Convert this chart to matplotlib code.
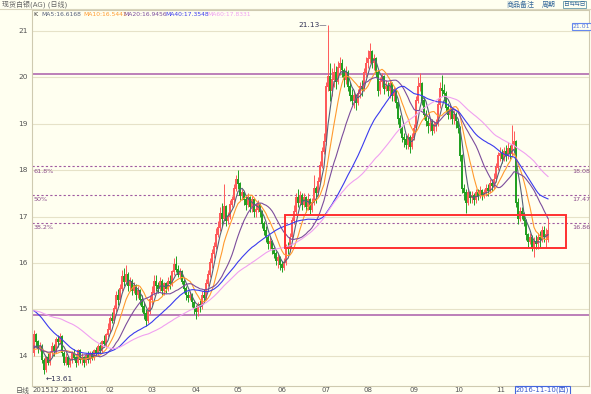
import numpy as np
import pandas as pd
import matplotlib
matplotlib.use("Agg")
import matplotlib.pyplot as plt
from matplotlib.patches import Rectangle

plt.rcParams['font.family'] = ['DejaVu Sans', 'Noto Sans CJK SC']

# ---------------- data ----------------
title = "现货白银(AG) (日线)"
month_labels = ["201601", "02", "03", "04", "05", "06", "07", "08", "09", "10", "11"]
month_start_idx = [14, 36, 57, 79, 100, 122, 144, 165, 188, 210, 231]
first_label = "201512"
cursor_label = "2016-11-10(四)"
cursor_idx = 241

# closes before the visible window (only used for the moving averages)
prior_closes = [14.6, 14.7, 14.8, 14.75, 14.9, 15.0, 14.85, 14.95, 15.1, 15.05,
                14.9, 14.8, 14.85, 15.0, 15.1, 15.2, 15.15, 15.0, 15.05, 15.1,
                15.3, 15.5, 15.7, 15.85, 15.9, 16.0, 16.1, 16.25, 16.1, 16.0,
                15.9, 15.85, 15.75, 15.6, 15.7, 15.55, 15.5, 15.6, 15.4, 15.3,
                15.0, 14.85, 14.6, 14.5, 14.3, 14.2, 14.15, 14.1, 14.0, 14.05,
                14.1, 14.2, 14.1, 14.15, 14.05, 14.0, 14.1, 14.2, 14.1, 14.0]

opens = [
    # Dec 2015
    14.05, 14.45, 14.3, 14.15, 14.2, 13.9, 13.7, 13.95, 13.85, 14.05, 14.2, 14.1, 14.35, 14.3,
    # Jan
    14.4, 14.05, 13.85, 13.95, 13.8, 13.9, 14.05, 13.95, 13.85, 14.1, 13.9, 13.95, 13.85, 14.0,
    13.9, 14.05, 13.95, 14.1, 14.05, 14.2, 14.1, 14.3, 14.25,
    # Feb
    14.45, 14.55, 14.8, 14.75, 15.0, 15.3, 15.2, 15.45, 15.7, 15.6, 15.75, 15.5, 15.6, 15.4,
    15.5, 15.3, 15.4, 15.2, 15.05, 14.9, 14.75,
    # Mar
    14.95, 15.2, 15.35, 15.6, 15.5, 15.45, 15.6, 15.4, 15.55, 15.45, 15.6, 15.55, 15.8, 15.95,
    15.85, 15.75, 15.8, 15.6, 15.45, 15.3, 15.25, 15.3, 15.15,
    # Apr
    15.0, 14.95, 15.1, 15.05, 15.3, 15.25, 15.55, 15.75, 16.0, 16.2, 16.35, 16.6, 16.75, 17.05,
    16.95, 17.2, 16.9, 17.0, 17.25, 17.35, 17.6,
    # May
    17.8, 17.7, 17.45, 17.5, 17.35, 17.25, 17.4, 17.2, 17.35, 17.1, 17.15, 17.25, 17.1, 16.85,
    16.7, 16.55, 16.4, 16.45, 16.3, 16.2, 16.05, 16.1,
    # Jun
    15.95, 15.9, 16.0, 16.35, 16.3, 16.55, 16.9, 17.1, 17.4, 17.3, 17.45, 17.25, 17.4, 17.2,
    17.35, 17.15, 17.3, 17.6, 17.5, 17.75, 18.1, 18.4,
    # Jul
    18.6, 19.8, 20.0, 19.7, 19.95, 20.1, 19.9, 20.2, 20.3, 20.15, 19.95, 20.1, 19.8, 19.6,
    19.5, 19.6, 19.45, 19.65, 19.8, 19.75, 20.1,
    # Aug
    20.3, 20.4, 20.55, 20.3, 20.4, 20.1, 19.7, 19.9, 20.0, 19.75, 19.8, 19.7, 19.85, 19.6,
    19.7, 19.45, 19.1, 18.9, 18.7, 18.65, 18.55, 18.7, 18.5,
    # Sep
    18.7, 18.9, 19.5, 19.8, 19.85, 19.5, 19.2, 19.05, 18.95, 19.0, 18.85, 18.95, 19.0, 19.4,
    19.75, 19.7, 19.65, 19.35, 19.2, 19.3, 19.1, 19.2,
    # Oct
    19.05, 18.9, 18.3, 17.6, 17.5, 17.3, 17.5, 17.4, 17.45, 17.35, 17.5, 17.45, 17.55, 17.45,
    17.5, 17.6, 17.55, 17.7, 17.65, 17.8,
    # Nov
    18.05, 18.3, 18.35, 18.25, 18.4, 18.3, 18.45, 18.35, 18.55, 18.6, 17.3, 16.95, 17.1, 17.05,
    16.9, 16.6, 16.45, 16.55, 16.35, 16.45, 16.4, 16.55, 16.5, 16.7, 16.55, 16.5,
]
highs = [
    14.55, 14.5, 14.35, 14.3, 14.25, 13.95, 14.0, 14.05, 14.1, 14.3, 14.25, 14.4, 14.45, 14.5,
    14.45, 14.1, 14.05, 14.0, 13.95, 14.1, 14.15, 14.0, 14.15, 14.15, 14.05, 14.0, 14.05, 14.1,
    14.1, 14.1, 14.15, 14.2, 14.25, 14.3, 14.35, 14.45, 14.5,
    14.7, 14.85, 14.95, 15.1, 15.4, 15.45, 15.55, 15.85, 15.9, 15.95, 15.8, 15.7, 15.65, 15.6,
    15.55, 15.5, 15.45, 15.3, 15.15, 15.0, 15.05,
    15.3, 15.5, 15.75, 15.75, 15.6, 15.7, 15.65, 15.6, 15.6, 15.7, 15.75, 15.85, 16.1, 16.15,
    15.95, 15.9, 15.85, 15.65, 15.5, 15.4, 15.4, 15.35, 15.2,
    15.1, 15.15, 15.2, 15.4, 15.45, 15.65, 15.85, 16.1, 16.3, 16.45, 16.75, 16.9, 17.2, 17.3,
    17.7, 17.25, 17.1, 17.35, 17.45, 17.7, 17.9,
    18.0, 17.75, 17.6, 17.55, 17.45, 17.5, 17.45, 17.45, 17.4, 17.3, 17.35, 17.3, 17.15, 16.9,
    16.8, 16.6, 16.55, 16.5, 16.35, 16.25, 16.2, 16.15,
    16.05, 16.1, 16.4, 16.45, 16.65, 17.0, 17.25, 17.5, 17.6, 17.55, 17.5, 17.5, 17.45, 17.5,
    17.4, 17.4, 17.9, 17.65, 17.85, 18.2, 18.5, 18.8,
    19.9, 21.13, 20.3, 20.2, 20.3, 20.25, 20.35, 20.45, 20.4, 20.2, 20.25, 20.15, 19.9, 19.75,
    19.7, 19.65, 19.75, 19.9, 19.95, 20.2, 20.45,
    20.6, 20.75, 20.6, 20.5, 20.45, 20.15, 20.0, 20.1, 20.05, 19.95, 19.9, 19.95, 19.9, 19.8,
    19.75, 19.5, 19.2, 18.95, 18.8, 18.75, 18.8, 18.75, 18.8,
    19.0, 19.6, 20.0, 20.1, 19.9, 19.55, 19.3, 19.15, 19.1, 19.1, 19.05, 19.1, 19.55, 19.9,
    20.05, 19.85, 19.7, 19.45, 19.4, 19.35, 19.3, 19.25,
    19.1, 18.95, 18.35, 17.7, 17.6, 17.6, 17.55, 17.55, 17.5, 17.6, 17.6, 17.65, 17.6, 17.6,
    17.7, 17.7, 17.8, 17.8, 17.95, 18.15,
    18.4, 18.5, 18.45, 18.5, 18.55, 18.6, 18.55, 18.97, 18.85, 18.65, 17.4, 17.2, 17.2, 17.1,
    16.95, 16.65, 16.65, 16.6, 16.55, 16.6, 16.65, 16.7, 16.8, 16.8, 16.75, 16.97,
]
lows = [
    14.0, 14.2, 14.05, 14.1, 13.85, 13.61, 13.65, 13.8, 13.8, 14.0, 14.0, 14.05, 14.2, 14.25,
    14.0, 13.8, 13.8, 13.75, 13.75, 13.85, 13.9, 13.75, 13.8, 13.85, 13.8, 13.75, 13.8, 13.85,
    13.85, 13.9, 13.9, 14.0, 14.0, 14.05, 14.05, 14.2, 14.2,
    14.4, 14.5, 14.7, 14.7, 14.95, 15.1, 15.15, 15.4, 15.5, 15.55, 15.4, 15.4, 15.3, 15.35,
    15.2, 15.25, 15.1, 14.95, 14.8, 14.65, 14.7,
    14.9, 15.1, 15.3, 15.4, 15.35, 15.4, 15.3, 15.3, 15.35, 15.4, 15.45, 15.5, 15.75, 15.8,
    15.7, 15.65, 15.55, 15.35, 15.2, 15.15, 15.2, 15.05, 14.9,
    14.8, 14.85, 14.95, 15.0, 15.15, 15.2, 15.5, 15.7, 15.9, 16.1, 16.3, 16.55, 16.7, 16.8,
    16.9, 16.8, 16.85, 16.95, 17.2, 17.3, 17.55,
    17.6, 17.35, 17.35, 17.25, 17.15, 17.2, 17.1, 17.1, 17.0, 17.0, 17.1, 17.0, 16.75, 16.6,
    16.45, 16.3, 16.3, 16.2, 16.1, 15.95, 15.9, 15.85,
    15.8, 15.85, 15.95, 16.2, 16.25, 16.5, 16.85, 17.05, 17.2, 17.25, 17.15, 17.2, 17.1, 17.15,
    17.05, 17.1, 17.25, 17.3, 17.45, 17.7, 18.05, 18.35,
    18.55, 19.7, 19.5, 19.6, 19.8, 19.75, 19.85, 20.05, 20.0, 19.8, 19.85, 19.7, 19.5, 19.4,
    19.35, 19.3, 19.4, 19.55, 19.6, 19.7, 20.0,
    20.2, 20.3, 20.2, 20.15, 20.0, 19.6, 19.65, 19.8, 19.65, 19.7, 19.6, 19.55, 19.5, 19.5,
    19.35, 19.0, 18.8, 18.6, 18.5, 18.45, 18.45, 18.37, 18.45,
    18.65, 18.85, 19.45, 19.7, 19.4, 19.1, 18.95, 18.8, 18.85, 18.75, 18.8, 18.85, 18.95, 19.35,
    19.6, 19.5, 19.25, 19.1, 19.1, 19.0, 19.0, 18.9,
    18.8, 18.2, 17.5, 17.35, 17.08, 17.25, 17.3, 17.3, 17.25, 17.3, 17.35, 17.4, 17.35, 17.4,
    17.45, 17.45, 17.5, 17.55, 17.6, 17.75,
    18.0, 18.2, 18.15, 18.2, 18.2, 18.25, 18.25, 18.3, 18.4, 17.2, 16.85, 16.9, 16.95, 16.8,
    16.5, 16.35, 16.4, 16.25, 16.13, 16.3, 16.3, 16.35, 16.45, 16.45, 16.35, 16.45,
]
closes = [
    14.45, 14.3, 14.15, 14.2, 13.9, 13.7, 13.95, 13.85, 14.05, 14.2, 14.1, 14.35, 14.3, 14.4,
    14.05, 13.85, 13.95, 13.8, 13.9, 14.05, 13.95, 13.85, 14.1, 13.9, 13.95, 13.85, 14.0, 13.9,
    14.05, 13.95, 14.1, 14.05, 14.2, 14.1, 14.3, 14.25, 14.45,
    14.55, 14.8, 14.75, 15.0, 15.3, 15.2, 15.45, 15.7, 15.6, 15.75, 15.5, 15.6, 15.4, 15.5,
    15.3, 15.4, 15.2, 15.05, 14.9, 14.75, 14.95,
    15.2, 15.35, 15.6, 15.5, 15.45, 15.6, 15.4, 15.55, 15.45, 15.6, 15.55, 15.8, 15.95, 15.85,
    15.75, 15.8, 15.6, 15.45, 15.3, 15.25, 15.3, 15.15, 15.0,
    14.95, 15.1, 15.05, 15.3, 15.25, 15.55, 15.75, 16.0, 16.2, 16.35, 16.6, 16.75, 17.05, 16.95,
    17.2, 16.9, 17.0, 17.25, 17.35, 17.6, 17.8,
    17.7, 17.45, 17.5, 17.35, 17.25, 17.4, 17.2, 17.35, 17.1, 17.15, 17.25, 17.1, 16.85, 16.7,
    16.55, 16.4, 16.45, 16.3, 16.2, 16.05, 16.1, 15.95,
    15.9, 16.0, 16.35, 16.3, 16.55, 16.9, 17.1, 17.4, 17.3, 17.45, 17.25, 17.4, 17.2, 17.35,
    17.15, 17.3, 17.6, 17.5, 17.75, 18.1, 18.4, 18.6,
    19.8, 20.0, 19.7, 19.95, 20.1, 19.9, 20.2, 20.3, 20.15, 19.95, 20.1, 19.8, 19.6, 19.5,
    19.6, 19.45, 19.65, 19.8, 19.75, 20.1, 20.3,
    20.4, 20.55, 20.3, 20.4, 20.1, 19.7, 19.9, 20.0, 19.75, 19.8, 19.7, 19.85, 19.6, 19.7,
    19.45, 19.1, 18.9, 18.7, 18.65, 18.55, 18.7, 18.5, 18.7,
    18.9, 19.5, 19.8, 19.85, 19.5, 19.2, 19.05, 18.95, 19.0, 18.85, 18.95, 19.0, 19.4, 19.75,
    19.7, 19.65, 19.35, 19.2, 19.3, 19.1, 19.2, 19.05,
    18.9, 18.3, 17.6, 17.5, 17.3, 17.5, 17.4, 17.45, 17.35, 17.5, 17.45, 17.55, 17.45, 17.5,
    17.6, 17.55, 17.7, 17.65, 17.8, 18.05,
    18.3, 18.35, 18.25, 18.4, 18.3, 18.45, 18.35, 18.55, 18.6, 17.3, 16.95, 17.1, 17.05, 16.9,
    16.6, 16.45, 16.55, 16.35, 16.45, 16.4, 16.55, 16.5, 16.7, 16.55, 16.6, 16.7,
]

ma_periods = [5, 10, 20, 40, 60]
ma_legend_values = [16.6168, 16.5441, 16.9456, 17.3548, 17.8331]
ma_colors = ["#56607a", "#ff9a2e", "#7c4d9c", "#3a3aee", "#f0a0f0"]

solid_levels = [20.07, 14.88]
fib_values = [18.08, 17.47, 16.86]
fib_names = ["61.8%", "50%", "38.2%"]

box_left_idx, box_right_idx = 125.5, 266
box_low, box_high = 16.32, 17.03
price_marker = "21.01"

# ---------------- figure ----------------
W, H = 591, 394
BG = "#fffff0"
fig = plt.figure(figsize=(W / 100, H / 100), dpi=100, facecolor=BG)

def fx(px):
    return px / W

def fy(py):
    return 1 - py / H

ax_l, ax_r, ax_t, ax_b = 32, 589, 10, 386
ax = fig.add_axes([fx(ax_l), fy(ax_b), fx(ax_r - ax_l), (ax_b - ax_t) / H])
ax.set_facecolor(BG)

n = len(closes)
idx = np.arange(n)
o = np.array(opens); h = np.array(highs); l = np.array(lows); c = np.array(closes)

ppu = 46.4
ytop = 21 + (31 - ax_t) / ppu
ybot = 21 - (ax_b - 31) / ppu
ax.set_ylim(ybot, ytop)
x0 = 34
ax.set_xlim((ax_l - x0) / 2.0, (ax_r - x0) / 2.0)

def ix(px):
    return (px - x0) / 2.0

# grid
for p in range(14, 22):
    ax.axhline(p, color="#e6e2c8", lw=0.8, zorder=0)

# candles
up = c >= o
red, green = "#ff5a5a", "#22a022"
cols = np.where(up, red, green)
ax.vlines(idx, l, h, colors=cols, lw=0.7, zorder=2)
ax.bar(idx, np.abs(c - o) + 0.02, bottom=np.minimum(o, c), width=0.85,
       color=cols, linewidth=0, zorder=3)

# moving averages
allc = pd.Series(prior_closes + closes)
for per, col in zip(ma_periods, ma_colors):
    ma = allc.rolling(per).mean().to_numpy()[len(prior_closes):]
    ax.plot(idx, ma, color=col, lw=0.8, zorder=4)

# horizontal solid lines and fib levels
for v in solid_levels:
    ax.axhline(v, color="#b06aae", lw=1.2, zorder=1)
for v, name in zip(fib_values, fib_names):
    ax.axhline(v, color="#a05aa0", lw=0.8, ls=(0, (2, 2)), zorder=1)
    ax.text(ix(ax_l + 2), v - 0.05, name, color="#8a4a8a", fontsize=4.6,
            va="top", ha="left", zorder=5)
    ax.text(ix(572), v - 0.05, f"{v:.2f}", color="#8a4a8a", fontsize=4.6,
            va="top", ha="left", zorder=5)

# red box
ax.add_patch(Rectangle((box_left_idx, box_low), box_right_idx - box_left_idx,
                       box_high - box_low, fill=False, ec="#ff3030", lw=1.4, zorder=6))

# high / low annotations
ih = int(np.argmax(h)); il = int(np.argmin(l))
ax.text(ih - 0.5, h[ih], f"{h[ih]:.2f}\u2014", ha="right", va="center",
        fontsize=5.3, color="#333355", zorder=6)
ax.text(il + 0.8, l[il] - 0.12, f"\u2190{l[il]:.2f}", ha="left", va="center",
        fontsize=5.3, color="#333355", zorder=6)

# price marker box at the right
ax.text(ix(572.5), 21.1, price_marker, fontsize=4.4, color="#5577dd",
        ha="left", va="center", zorder=7,
        bbox=dict(boxstyle="square,pad=0.12", fc=BG, ec="#6688ee", lw=0.8))

ax.set_xticks([]); ax.set_yticks([])
for s in ax.spines.values():
    s.set_color("#cfcab0"); s.set_linewidth(0.8)

# y labels (left strip)
for p in range(14, 22):
    ypx = 31 + (21 - p) * ppu
    fig.text(fx(28), fy(ypx), str(p), ha="right", va="center", fontsize=5.3, color="#555555")

# header
fig.add_artist(plt.Line2D([0, 1], [fy(9), fy(9)], color="#d8d4bc", lw=0.8))
fig.text(fx(2), fy(4.5), title, fontsize=5.0, color="#666666", va="center", ha="left")
fig.text(fx(507), fy(4.5), "商品备注", fontsize=5.0, color="#336699", va="center", ha="left")
fig.text(fx(542), fy(4.5), "周期", fontsize=5.0, color="#336699", va="center", ha="left")
fig.text(fx(564), fy(4.5), "日⇆⇆日", fontsize=4.2, color="#336699", va="center", ha="left",
         bbox=dict(boxstyle="square,pad=0.1", fc=BG, ec="#6699aa", lw=0.6))

# legend line
fig.text(fx(33), fy(15), "K", fontsize=4.6, color="#333333", va="center", ha="left")
legend_x = [41, 83, 123, 165, 207]
for per, col, val, xp in zip(ma_periods, ma_colors, ma_legend_values, legend_x):
    fig.text(fx(xp), fy(15), f"MA{per}:{val:.4f}", fontsize=4.3, color=col,
             va="center", ha="left")

# bottom labels
fig.text(fx(30), fy(390.5), "日线", fontsize=5.0, color="#555555", va="center", ha="right")
fig.text(fx(33), fy(390.5), first_label, fontsize=5.0, color="#555555", va="center", ha="left")
for lab, mi in zip(month_labels, month_start_idx):
    fig.text(fx(x0 + 2 * mi), fy(390.5), lab, fontsize=5.0, color="#555555",
             va="center", ha="left")
fig.text(fx(x0 + 2 * cursor_idx), fy(390), cursor_label, fontsize=5.0, color="#3355cc",
         va="center", ha="left",
         bbox=dict(boxstyle="square,pad=0.12", fc="#ffffff", ec="#4466dd", lw=0.8))

fig.savefig("out.png", dpi=100, facecolor=BG)
